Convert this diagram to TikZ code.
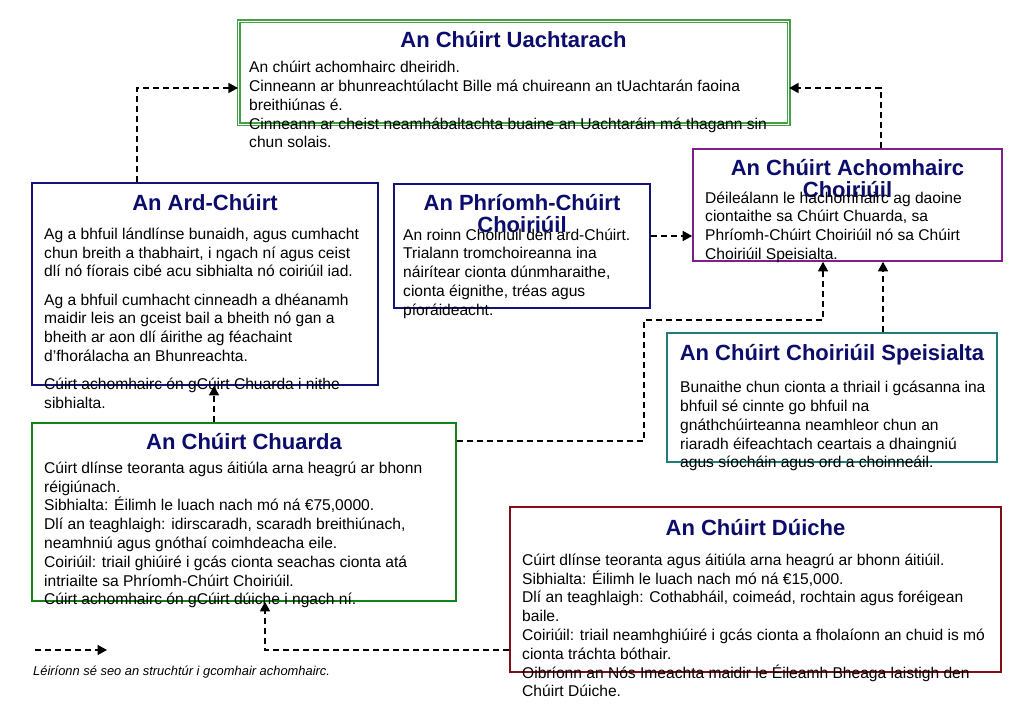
\documentclass[tikz,border=0pt]{standalone}
\usepackage{fontspec}
\setmainfont{Liberation Sans}
\usetikzlibrary{arrows.meta}
\definecolor{titleblue}{RGB}{12,12,108}
\definecolor{navyline}{RGB}{20,20,120}
\definecolor{supgreen}{RGB}{70,160,70}
\definecolor{circgreen}{RGB}{20,130,20}
\definecolor{purpleline}{RGB}{128,30,140}
\definecolor{tealline}{RGB}{30,125,120}
\definecolor{redline}{RGB}{128,15,25}
\newcommand\bodystrut{\rule{0pt}{14pt}}
\newcommand\titlestrut{\rule{0pt}{17pt}}
\tikzset{
  box/.style={draw, line width=1.6pt, inner sep=0pt, rectangle},
  body/.style={anchor=north west, inner sep=0pt, align=left, text=black,
    font=\fontsize{15.6}{18.8}\selectfont},
  ttl/.style={anchor=north, inner sep=0pt, align=center, text=titleblue,
    font=\fontsize{22}{22.3}\selectfont\bfseries},
  conn/.style={draw=black, line width=1.4pt, dash pattern=on 6pt off 4pt,
    -{Triangle[length=9.5pt,width=10pt]}},
}
\begin{document}
\begin{tikzpicture}[x=1pt,y=-1pt]
\useasboundingbox[fill=white] (0,0) rectangle (1023,708);

% boxes
\node[box, draw=supgreen, line width=1.1pt, double=white, double distance=1.8pt,
  minimum width=550pt, minimum height=103pt] (uach) at (513.5,73) {};
\node[box, draw=navyline, minimum width=346pt, minimum height=202pt] (ard) at (205,284) {};
\node[box, draw=navyline, minimum width=256pt, minimum height=124pt] (prim) at (522,246) {};
\node[box, draw=purpleline, minimum width=309pt, minimum height=112pt] (ach) at (847.5,205) {};
\node[box, draw=tealline, minimum width=330pt, minimum height=129pt] (spe) at (832,397.5) {};
\node[box, draw=circgreen, minimum width=424pt, minimum height=178pt] (chu) at (244,512) {};
\node[box, draw=redline, minimum width=491pt, minimum height=165pt] (dui) at (755.5,589.5) {};

% titles
\node[ttl] (uachT) at (513.5,30) {\titlestrut An Chúirt Uachtarach};
\node[ttl] (ardT) at (205,193) {\titlestrut An Ard-Chúirt};
\node[ttl] (primT) at (522,193) {\titlestrut An Phríomh-Chúirt\\Choiriúil};
\node[ttl] (achT) at (847.5,158) {\titlestrut An Chúirt Achomhairc\\Choiriúil};
\node[ttl] (speT) at (832,343) {\titlestrut An Chúirt Choiriúil Speisialta};
\node[ttl] (chuT) at (244,432) {\titlestrut An Chúirt Chuarda};
\node[ttl] (duiT) at (755.5,518) {\titlestrut An Chúirt Dúiche};

% bodies
\node[body] (uachB) at (249,58.5) {\bodystrut An chúirt achomhairc dheiridh.\\
Cinneann ar bhunreachtúlacht Bille má chuireann an tUachtarán faoina\\
breithiúnas é.\\
Cinneann ar cheist neamhábaltachta buaine an Uachtaráin má thagann sin\\
chun solais.};
\node[body] (ardB) at (44,225) {\bodystrut Ag a bhfuil lándlínse bunaidh, agus cumhacht\\
chun breith a thabhairt, i ngach ní agus ceist\\
dlí nó fíorais cibé acu sibhialta nó coiriúil iad.\\[9.5pt]
Ag a bhfuil cumhacht cinneadh a dhéanamh\\
maidir leis an gceist bail a bheith nó gan a\\
bheith ar aon dlí áirithe ag féachaint\\
d’fhorálacha an Bhunreachta.\\[9.5pt]
Cúirt achomhairc ón gCúirt Chuarda i nithe\\
sibhialta.};
\node[body] (primB) at (403,226) {\bodystrut An roinn Choiriúil den ard-Chúirt.\\
Trialann tromchoireanna ina\\
náirítear cionta dúnmharaithe,\\
cionta éignithe, tréas agus\\
píoráideacht.};
\node[body] (achB) at (705,189) {\bodystrut Déileálann le hachomhairc ag daoine\\
ciontaithe sa Chúirt Chuarda, sa\\
Phríomh-Chúirt Choiriúil nó sa Chúirt\\
Choiriúil Speisialta.};
\node[body] (speB) at (680,378.5) {\bodystrut Bunaithe chun cionta a thriail i gcásanna ina\\
bhfuil sé cinnte go bhfuil na\\
gnáthchúirteanna neamhleor chun an\\
riaradh éifeachtach ceartais a dhaingniú\\
agus síocháin agus ord a choinneáil.};
\node[body] (chuB) at (44,459) {\bodystrut Cúirt dlínse teoranta agus áitiúla arna heagrú ar bhonn\\
réigiúnach.\\
Sibhialta: Éilimh le luach nach mó ná €75,0000.\\
Dlí an teaghlaigh: idirscaradh, scaradh breithiúnach,\\
neamhniú agus gnóthaí coimhdeacha eile.\\
Coiriúil: triail ghiúiré i gcás cionta seachas cionta atá\\
intriailte sa Phríomh-Chúirt Choiriúil.\\
Cúirt achomhairc ón gCúirt dúiche i ngach ní.};
\node[body] (duiB) at (522,551) {\bodystrut Cúirt dlínse teoranta agus áitiúla arna heagrú ar bhonn áitiúil.\\
Sibhialta: Éilimh le luach nach mó ná €15,000.\\
Dlí an teaghlaigh: Cothabháil, coimeád, rochtain agus foréigean\\
baile.\\
Coiriúil: triail neamhghiúiré i gcás cionta a fholaíonn an chuid is mó\\
cionta tráchta bóthair.\\
Oibríonn an Nós Imeachta maidir le Éileamh Bheaga laistigh den\\
Chúirt Dúiche.};

% connectors
\coordinate (j1) at (137,88);
\draw[conn] (ard.north -| j1) |- (uach.west |- j1);
\coordinate (j2) at (881,88);
\draw[conn] (ach.north -| j2) |- (uach.east |- j2);
\coordinate (j3) at (0,236);
\draw[conn] (prim.east |- j3) -- (ach.west |- j3);
\coordinate (j4a) at (644,441);
\coordinate (j4b) at (823,320);
\draw[conn] (chu.east |- j4a) -- (j4a) |- (j4b) -- (ach.south -| j4b);
\coordinate (j5) at (883,0);
\draw[conn] (spe.north -| j5) -- (ach.south -| j5);
\coordinate (j6) at (214,0);
\draw[conn] (chu.north -| j6) -- (ard.south -| j6);
\coordinate (j7) at (265,650);
\draw[conn] (dui.west |- j7) -| (chu.south -| j7);

% legend
\coordinate (l1) at (35,650);
\coordinate (l2) at (107,650);
\draw[conn] (l1) -- (l2);
\node[anchor=base west, inner sep=0pt, font=\fontsize{12.9}{15}\selectfont\itshape] (legend) at (33,675.5) {Léiríonn sé seo an struchtúr i gcomhair achomhairc.};
\end{tikzpicture}
\end{document}
